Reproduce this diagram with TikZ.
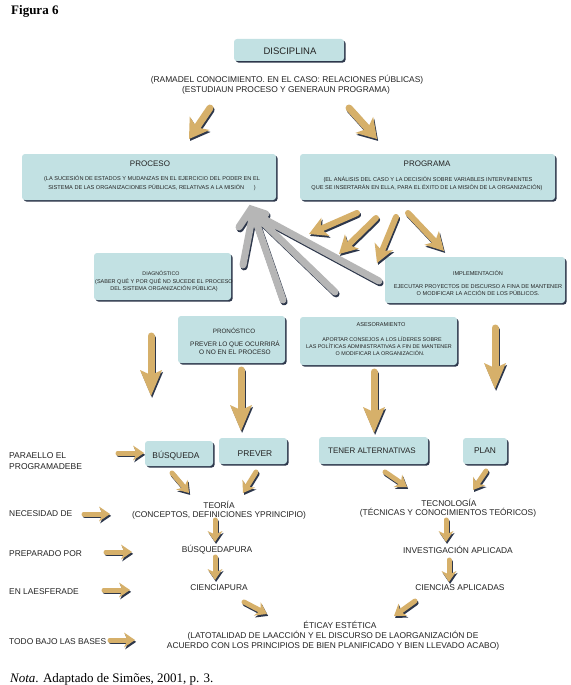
\documentclass[tikz,border=0pt]{standalone}
\usepackage{fontspec}
\setmainfont{Liberation Serif}
\newfontfamily\arialf{Liberation Sans}
\usetikzlibrary{arrows.meta,shadows}
\definecolor{boxc}{RGB}{194,225,227}
\definecolor{shc}{RGB}{45,55,75}
\definecolor{orc}{RGB}{214,176,106}
\definecolor{grc}{RGB}{182,182,182}
\definecolor{txc}{RGB}{35,35,35}
\tikzset{
  box/.style={fill=boxc, rounded corners=3pt, draw=none, inner sep=0pt,
    drop shadow={shadow xshift=1.6pt, shadow yshift=-1.6pt, fill=shc, opacity=1}},
  lbl/.style={font=\arialf\fontsize{8.4}{10}\selectfont, text=txc, inner sep=0pt, align=center},
  ttl/.style={font=\arialf\fontsize{8}{10}\selectfont, text=txc, inner sep=0pt, align=center},
  sml/.style={font=\arialf\fontsize{5.6}{7.4}\selectfont, text=txc, inner sep=0pt, align=center},
  oarr/.style n args={4}{draw=orc, line width=#1, line cap=round,
    -{Stealth[length=#2, width=#3, inset=#4, line width=0pt]},
    preaction={draw=shc, line width=#1, line cap=round,
      -{Stealth[length=#2, width=#3, inset=#4, line width=0pt]},
      transform canvas={shift={(1.1pt,-1.9pt)}}}},
  big/.style={oarr={7pt}{19pt}{24pt}{5pt}},
  vbig/.style={oarr={7pt}{26pt}{22pt}{5pt}},
  mid/.style={oarr={6pt}{18pt}{20pt}{5pt}},
  sma/.style={oarr={5pt}{11pt}{15pt}{3.5pt}},
  gshaft/.style={draw=grc, line width=7pt, line cap=round, line join=miter,
    preaction={draw=shc, line width=7pt, line cap=round, line join=miter,
      transform canvas={shift={(1.1pt,-1.9pt)}}}},
}
\begin{document}
\begin{tikzpicture}[x=1pt,y=-1pt]
\useasboundingbox (0,0) rectangle (570,685);
\fill[white] (0,0) rectangle (570,685);

% title and note
\node[anchor=base west, inner sep=0pt, font=\bfseries\fontsize{13}{15}\selectfont] (fig) at (11,15) {Figura 6};
\node[anchor=base west, inner sep=0pt, font=\fontsize{13}{15}\selectfont] (nota) at (10,682) {\textit{Nota}. Adaptado de Simões, 2001, p. 3.};

% boxes
\node[box, minimum width=110pt, minimum height=22pt] (disc) at (289,50) {};
\node[box, minimum width=254pt, minimum height=46pt] (proc) at (149,177) {};
\node[box, minimum width=255pt, minimum height=46pt] (prog) at (427.5,177) {};
\node[box, minimum width=137pt, minimum height=47pt] (diag) at (162.5,276.5) {};
\node[box, minimum width=180pt, minimum height=46pt] (impl) at (475,280) {};
\node[box, minimum width=107pt, minimum height=47pt] (pron) at (231.5,339.5) {};
\node[box, minimum width=157pt, minimum height=48pt] (ases) at (378.5,341) {};
\node[box, minimum width=68pt, minimum height=25pt] (busq) at (179,453.5) {};
\node[box, minimum width=68pt, minimum height=26pt] (prev) at (253,451) {};
\node[box, minimum width=109pt, minimum height=27pt] (tener) at (373.5,450.5) {};
\node[box, minimum width=44pt, minimum height=26pt] (plan) at (485,451) {};

% texts in boxes
\node[lbl, font=\arialf\fontsize{9.5}{11}\selectfont] (discT) at (290,51) {DISCIPLINA};
\node[lbl] (rama1) at (287,80) {(RAMADEL CONOCIMIENTO. EN EL CASO: RELACIONES PÚBLICAS)};
\node[lbl] (rama2) at (286,90) {(ESTUDIAUN PROCESO Y GENERAUN PROGRAMA)};

\node[ttl] (procT) at (150,164) {PROCESO};
\node[sml] (proc1) at (152,179) {(LA SUCESIÓN DE ESTADOS Y MUDANZAS EN EL EJERCICIO DEL PODER EN EL};
\node[sml] (proc2) at (152,188) {SISTEMA DE LAS ORGANIZACIONES PÚBLICAS, RELATIVAS A LA MISIÓN \hspace{8pt})};

\node[ttl] (progT) at (427,164) {PROGRAMA};
\node[sml] (prog1) at (428,180) {(EL ANÁLISIS DEL CASO Y LA DECISIÓN SOBRE VARIABLES INTERVINIENTES};
\node[sml] (prog2) at (427,188) {QUE SE INSERTARÁN EN ELLA, PARA EL ÉXITO DE LA MISIÓN DE LA ORGANIZACIÓN)};

\node[sml, font=\arialf\fontsize{5.3}{7}\selectfont] (diagT) at (161,273) {DIAGNÓSTICO};
\node[sml, font=\arialf\fontsize{5.5}{7.3}\selectfont] (diag1) at (164,282) {(SABER QUÉ Y POR QUÉ NO SUCEDE EL PROCESO};
\node[sml, font=\arialf\fontsize{5.5}{7.3}\selectfont] (diag2) at (164,289) {DEL SISTEMA ORGANIZACIÓN PÚBLICA)};

\node[sml] (implT) at (478,273) {IMPLEMENTACIÓN};
\node[sml] (impl1) at (478,287) {EJECUTAR PROYECTOS DE DISCURSO A FINA DE MANTENER};
\node[sml] (impl2) at (478,293) {O MODIFICAR LA ACCIÓN DE LOS PÚBLICOS.};

\node[sml, font=\arialf\fontsize{6.3}{8}\selectfont] (pronT) at (234,331) {PRONÓSTICO};
\node[sml, font=\arialf\fontsize{6.5}{8}\selectfont] (pron1) at (235,344) {PREVER LO QUE OCURRIRÁ};
\node[sml, font=\arialf\fontsize{6.5}{8}\selectfont] (pron2) at (235,352) {O NO EN EL PROCESO};

\node[sml] (asesT) at (381,325) {ASESORAMIENTO};
\node[sml, font=\arialf\fontsize{5.4}{7}\selectfont] (ases1) at (382,339) {APORTAR CONSEJOS A LOS LÍDERES SOBRE};
\node[sml, font=\arialf\fontsize{5.4}{7}\selectfont] (ases2) at (379,346) {LAS POLÍTICAS ADMINISTRATIVAS A FIN DE MANTENER};
\node[sml, font=\arialf\fontsize{5.4}{7}\selectfont] (ases3) at (380,353) {O MODIFICAR LA ORGANIZACIÓN.};

\node[lbl] (busqT) at (176,456) {BÚSQUEDA};
\node[lbl] (prevT) at (255,454) {PREVER};
\node[lbl, font=\arialf\fontsize{8}{10}\selectfont] (tenerT) at (372,451) {TENER ALTERNATIVAS};
\node[lbl] (planT) at (485,451) {PLAN};

% left labels
\node[lbl, align=left, anchor=west, font=\arialf\fontsize{8.5}{11}\selectfont] (para) at (9,461.5) {PARAELLO EL\\PROGRAMADEBE};
\node[lbl, anchor=west] (nec) at (9,514) {NECESIDAD DE};
\node[lbl, anchor=west] (prep) at (9,554) {PREPARADO POR};
\node[lbl, anchor=west] (esf) at (9,592) {EN LAESFERADE};
\node[lbl, anchor=west] (todo) at (9,642) {TODO BAJO LAS BASES};

% lower texts
\node[lbl] (teo) at (219,505) {TEORÍA};
\node[lbl] (teo2) at (219,515) {(CONCEPTOS, DEFINICIONES YPRINCIPIO)};
\node[lbl] (tec) at (449,503) {TECNOLOGÍA};
\node[lbl] (tec2) at (448,513) {(TÉCNICAS Y CONOCIMIENTOS TEÓRICOS)};
\node[lbl] (bpura) at (217,550) {BÚSQUEDAPURA};
\node[lbl] (inv) at (458,550) {INVESTIGACIÓN APLICADA};
\node[lbl] (cpura) at (219,588) {CIENCIAPURA};
\node[lbl] (capl) at (460,588) {CIENCIAS APLICADAS};
\node[lbl] (etica) at (340,625) {ÉTICAY ESTÉTICA};
\node[lbl] (etica2) at (333,636) {(LATOTALIDAD DE LAACCIÓN Y EL DISCURSO DE LAORGANIZACIÓN DE};
\node[lbl] (etica3) at (333,646) {ACUERDO CON LOS PRINCIPIOS DE BIEN PLANIFICADO Y BIEN LLEVADO ACABO)};

% connector end points
\coordinate (d1s) at (210,108); \coordinate (d1e) at (189,139);
\coordinate (d2s) at (349,108); \coordinate (d2e) at (377,139);
\coordinate (a1s) at (357,213); \coordinate (a1e) at (309,234);
\coordinate (a2s) at (376,218); \coordinate (a2e) at (339,254);
\coordinate (a3s) at (396,217); \coordinate (a3e) at (377,263);
\coordinate (a4s) at (408,213); \coordinate (a4e) at (444,251);
\coordinate (v1s) at (151,336); \coordinate (v1e) at (151,396);
\coordinate (v2s) at (241,370); \coordinate (v2e) at (241,431);
\coordinate (v3s) at (374,372); \coordinate (v3e) at (374,433);
\coordinate (v4s) at (495,328); \coordinate (v4e) at (495,389);
\coordinate (pas) at (118,453); \coordinate (pae) at (144,453);
\coordinate (bts) at (172,473); \coordinate (bte) at (189,493);
\coordinate (pts) at (256,472); \coordinate (pte) at (243,493);
\coordinate (tts) at (385,472); \coordinate (tte) at (407,487);
\coordinate (lts) at (486,471); \coordinate (lte) at (473,490);
\coordinate (necs) at (84,514); \coordinate (nece) at (110,514);
\coordinate (preps) at (106,552); \coordinate (prepe) at (132,552);
\coordinate (esfs) at (104,590); \coordinate (esfe) at (130,590);
\coordinate (todos) at (110,640); \coordinate (todoe) at (135,640);
\coordinate (tbs) at (215,520); \coordinate (tbe) at (215,542);
\coordinate (bcs) at (215,557); \coordinate (bce) at (215,580);
\coordinate (tis) at (446,520); \coordinate (tie) at (446,542);
\coordinate (ics) at (449,560); \coordinate (ice) at (449,582);
\coordinate (ces) at (244,602); \coordinate (cee) at (267,614);
\coordinate (cas) at (415,601); \coordinate (cae) at (394,616);

% gray converging arrow
\coordinate (gT) at (251,209);
\coordinate (gJ) at (253,213);
\coordinate (g1) at (243,265);
\coordinate (g2) at (283,300);
\coordinate (g3) at (335,292);
\coordinate (g4) at (379,281);
\coordinate (gl) at (239,227);
\coordinate (gr) at (266,214);
\draw[gshaft] (g1) -- (gJ) (g2) -- (gJ) (g3) -- (gJ) (g4) -- (gJ)
  (gl) -- (gT) -- (gr);

% orange arrows
\draw[big] (d1s) -- (d1e);
\draw[big] (d2s) -- (d2e);
\draw[mid] (a1s) -- (a1e);
\draw[mid] (a2s) -- (a2e);
\draw[mid] (a3s) -- (a3e);
\draw[mid] (a4s) -- (a4e);
\draw[vbig] (v1s) -- (v1e);
\draw[vbig] (v2s) -- (v2e);
\draw[vbig] (v3s) -- (v3e);
\draw[vbig] (v4s) -- (v4e);
\draw[sma] (pas) -- (pae);
\draw[sma] (bts) -- (bte);
\draw[sma] (pts) -- (pte);
\draw[sma] (tts) -- (tte);
\draw[sma] (lts) -- (lte);
\draw[sma] (necs) -- (nece);
\draw[sma] (preps) -- (prepe);
\draw[sma] (esfs) -- (esfe);
\draw[sma] (todos) -- (todoe);
\draw[sma] (tbs) -- (tbe);
\draw[sma] (bcs) -- (bce);
\draw[sma] (tis) -- (tie);
\draw[sma] (ics) -- (ice);
\draw[sma] (ces) -- (cee);
\draw[sma] (cas) -- (cae);
\end{tikzpicture}
\end{document}
